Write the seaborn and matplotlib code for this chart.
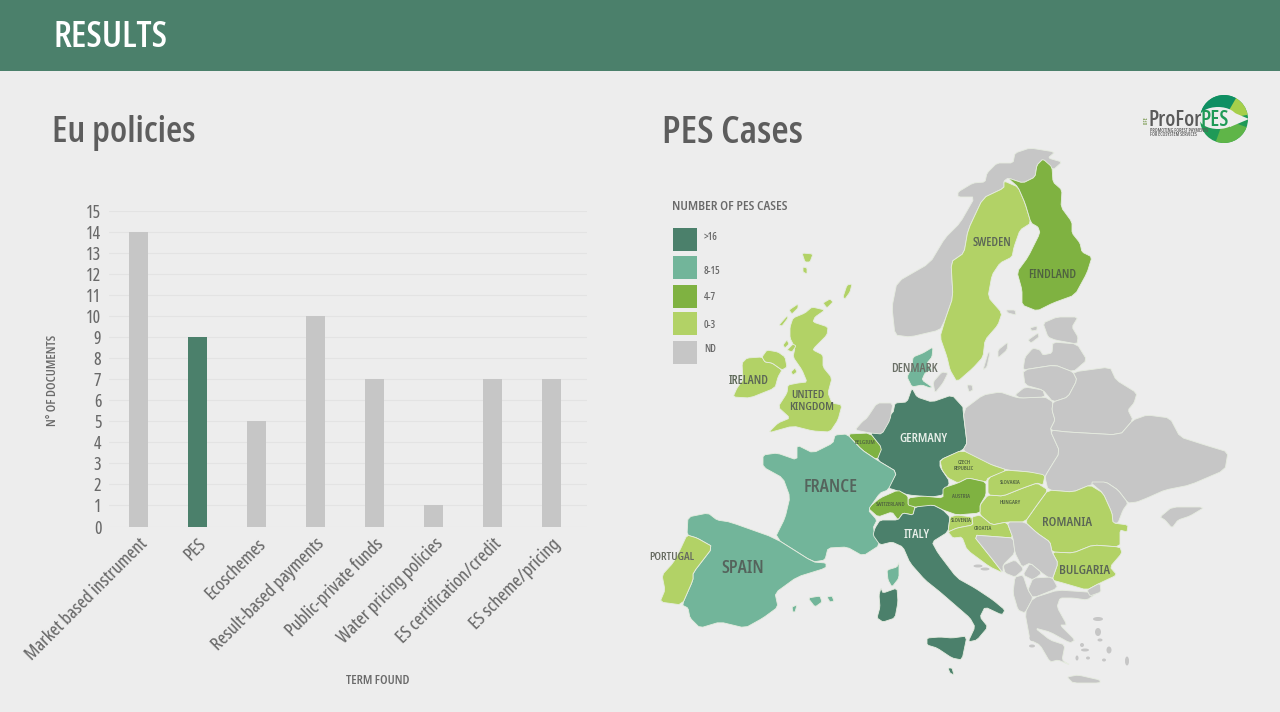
import matplotlib
matplotlib.use("Agg")
import matplotlib.pyplot as plt
import seaborn as sns
from matplotlib.patches import Polygon, Rectangle, Wedge, Ellipse, Circle
from matplotlib import font_manager as fm

# ---------- chart data ----------
terms = ["Market based instrument", "PES", "Ecoschemes", "Result-based payments",
         "Public-private funds", "Water pricing policies", "ES certification/credit",
         "ES scheme/pricing"]
documents = [14, 9, 5, 10, 7, 1, 7, 7]
bar_colors = ["#c6c6c6", "#4b806b", "#c6c6c6", "#c6c6c6", "#c6c6c6", "#c6c6c6", "#c6c6c6", "#c6c6c6"]
y_ticks = list(range(16))

legend_labels = [">16", "8-15", "4-7", "0-3", "ND"]
legend_colors = ["#4b806b", "#72b59a", "#7fb241", "#b2d266", "#c6c6c6"]
DARK, MID, GREEN, LIGHT, ND = legend_colors

# ---------- map outlines (image outline of each country) ----------
shapes = {
 "norway": (ND, [(958,192),(973,183),(985,182),(987,173),(997,163),(1013,163),(1015,153),(1030,148),(1055,152),(1048,158),(1062,162),(1053,170),(1043,159),(1037,165),(1035,177),(1023,183),(1008,178),(1004,181),(1004,188),(983,198),(968,230),(964,253),(951,262),(953,297),(945,320),(940,330),(910,337),(895,335),(892,307),(897,282),(930,263),(945,238),(960,223),(975,197),(958,197)]),
 "sweden": (LIGHT, [(1004,181),(1018,187),(1025,203),(1031,223),(1020,230),(1014,247),(1012,257),(1000,263),(992,275),(988,297),(1002,313),(998,325),(985,340),(983,357),(973,368),(957,382),(950,370),(947,357),(940,337),(945,320),(953,297),(951,262),(964,253),(968,230),(983,198),(1004,188)]),
 "finland": (GREEN, [(1008,178),(1023,183),(1035,177),(1037,165),(1043,159),(1052,167),(1053,182),(1062,190),(1061,207),(1072,222),(1072,233),(1080,243),(1082,252),(1092,257),(1087,273),(1075,295),(1053,303),(1037,311),(1022,305),(1022,290),(1017,272),(1028,257),(1040,233),(1038,227),(1031,223),(1025,203),(1018,187)]),
 "uk": (LIGHT, [(805,313),(812,307),(825,310),(815,317),(813,322),(828,327),(827,335),(815,347),(813,350),(823,355),(823,367),(832,378),(828,393),(832,403),(842,405),(838,420),(830,432),(813,431),(793,426),(768,433),(778,423),(790,418),(778,407),(787,393),(788,385),(798,383),(807,382),(802,370),(793,357),(795,348),(790,338),(790,327),(793,318)]),
 "ireland": (LIGHT, [(747,358),(762,357),(765,362),(772,363),(782,370),(778,377),(775,388),(750,398),(733,397),(737,388),(743,380),(742,363)]),
 "n_ireland": (LIGHT, [(762,357),(767,350),(778,352),(785,357),(787,367),(782,370),(772,363),(765,362)]),
 "uk1": (LIGHT, [(802,253),(813,254),(810,262),(805,262)]),
 "uk2": (LIGHT, [(803,267),(807,268),(807,274),(803,272)]),
 "uk3": (LIGHT, [(843,297),(847,285),(852,284),(850,292),(845,299)]),
 "uk4": (LIGHT, [(823,303),(830,299),(833,302),(827,308)]),
 "uk5": (LIGHT, [(789,310),(798,304),(798,308),(792,314)]),
 "uk6": (LIGHT, [(779,325),(787,316),(788,318),(782,326)]),
 "uk7": (LIGHT, [(783,345),(787,340),(789,344),(785,348)]),
 "uk8": (LIGHT, [(787,350),(793,344),(796,346),(792,352)]),
 "uk9": (LIGHT, [(791,372),(795,368),(797,372),(793,375)]),
 "denmark": (MID, [(913,357),(923,353),(933,347),(932,357),(927,363),(932,370),(925,373),(922,380),(932,387),(930,388),(922,385),(912,387),(907,377),(912,367)]),
 "zealand": (ND, [(933,382),(942,372),(948,373),(943,383),(935,393)]),
 "germany": (DARK, [(912,388),(917,397),(932,402),(952,395),(963,407),(963,410),(967,443),(963,450),(940,460),(940,467),(950,482),(943,495),(932,497),(908,495),(895,490),(888,488),(897,472),(877,460),(881,448),(870,433),(880,420),(893,413),(895,403),(907,402)]),
 "poland": (ND, [(963,410),(983,395),(1000,392),(1015,397),(1020,398),(1045,397),(1053,402),(1052,410),(1055,420),(1050,430),(1060,452),(1047,473),(1045,477),(1030,472),(1007,470),(992,465),(977,460),(963,450),(967,443)]),
 "estonia": (ND, [(1043,323),(1057,317),(1078,317),(1072,327),(1078,337),(1077,344),(1055,340),(1048,337)]),
 "latvia": (ND, [(1025,357),(1033,348),(1040,350),(1043,355),(1052,353),(1053,342),(1077,344),(1087,360),(1073,372),(1055,365),(1035,368),(1023,370)]),
 "lithuania": (ND, [(1023,370),(1055,365),(1073,372),(1077,380),(1068,397),(1053,402),(1043,390),(1025,385)]),
 "kaliningrad": (ND, [(1015,395),(1025,387),(1043,390),(1045,397),(1020,398)]),
 "belarus": (ND, [(1077,380),(1073,372),(1110,367),(1116,380),(1137,393),(1134,403),(1128,410),(1133,420),(1120,435),(1067,432),(1050,430),(1055,420),(1052,410),(1053,402),(1068,397)]),
 "ukraine": (ND, [(1050,430),(1067,432),(1120,435),(1133,420),(1147,415),(1170,418),(1180,437),(1205,445),(1228,452),(1225,470),(1190,485),(1165,490),(1147,498),(1137,502),(1128,503),(1118,490),(1106,482),(1090,485),(1073,492),(1048,490),(1045,477),(1047,473),(1060,452)]),
 "moldova": (ND, [(1090,482),(1106,482),(1118,490),(1128,503),(1123,510),(1118,523),(1113,523),(1112,513),(1103,493)]),
 "crimea": (ND, [(1160,517),(1172,507),(1205,507),(1190,516),(1178,520),(1172,528),(1165,520)]),
 "romania": (LIGHT, [(1048,490),(1073,492),(1090,485),(1103,493),(1112,513),(1113,523),(1128,525),(1127,532),(1120,530),(1120,547),(1093,545),(1073,553),(1052,552),(1050,542),(1037,533),(1025,522),(1037,505)]),
 "bulgaria": (LIGHT, [(1052,552),(1073,553),(1093,545),(1120,547),(1122,553),(1110,567),(1117,575),(1100,583),(1087,590),(1063,583),(1052,580),(1058,563)]),
 "hungary": (LIGHT, [(980,505),(988,495),(1003,496),(1023,488),(1037,483),(1048,490),(1037,505),(1025,522),(1007,522),(992,525),(980,515)]),
 "slovakia": (LIGHT, [(988,478),(1005,470),(1030,472),(1045,475),(1043,485),(1037,483),(1023,488),(1003,496),(988,495)]),
 "czech": (LIGHT, [(940,460),(962,450),(982,460),(992,465),(1007,470),(988,478),(986,482),(968,478),(958,483),(948,478),(942,470)]),
 "austria": (GREEN, [(958,483),(968,478),(986,482),(986,495),(980,505),(980,513),(957,515),(943,510),(933,505),(925,507),(908,507),(908,498),(923,496),(943,498),(943,488)]),
 "switzerland": (GREEN, [(868,508),(880,498),(898,490),(908,496),(908,505),(915,507),(913,515),(903,513),(898,520),(892,512),(878,517)]),
 "belgium": (GREEN, [(847,434),(870,433),(882,448),(877,460),(862,450)]),
 "netherlands": (ND, [(867,418),(877,403),(893,403),(890,420),(882,434),(870,433),(855,430),(862,422)]),
 "france": (MID, [(763,455),(777,453),(797,460),(797,445),(813,453),(833,443),(835,435),(847,434),(862,450),(877,460),(897,472),(888,490),(880,493),(868,510),(877,520),(873,528),(880,545),(863,556),(847,547),(828,548),(825,560),(813,562),(775,538),(785,518),(790,497),(783,478),(763,467)]),
 "spain": (MID, [(688,517),(708,513),(717,520),(730,522),(775,538),(813,562),(826,563),(826,568),(797,577),(775,593),(778,607),(763,618),(745,628),(720,622),(700,628),(690,618),(688,608),(682,605),(693,580),(693,573),(713,547),(697,538),(687,535)]),
 "portugal": (LIGHT, [(687,535),(697,538),(713,547),(693,573),(693,580),(682,605),(660,602),(665,590),(662,575),(673,563),(680,550)]),
 "mallorca": (MID, [(808,598),(820,596),(822,602),(815,607)]),
 "menorca": (MID, [(827,597),(832,596),(834,601),(830,602)]),
 "ibiza": (MID, [(792,607),(797,605),(795,612),(793,612)]),
 "corsica": (MID, [(887,570),(897,567),(899,562),(899,578),(892,587),(888,580)]),
 "sardinia": (DARK, [(879,595),(881,588),(883,593),(897,588),(898,602),(895,618),(883,622),(877,618),(880,607)]),
 "sicily": (DARK, [(927,638),(940,637),(952,638),(967,636),(962,660),(952,658),(937,648),(927,645)]),
 "lampedusa": (DARK, [(948,668),(952,668),(954,675),(950,673)]),
 "italy": (DARK, [(875,528),(880,520),(898,520),(903,513),(913,515),(915,507),(933,505),(943,510),(950,517),(948,532),(932,542),(938,553),(957,578),(975,588),(993,600),(1005,610),(1002,615),(985,607),(980,617),(988,627),(977,640),(968,642),(975,627),(970,618),(955,605),(940,592),(925,580),(910,563),(903,547),(892,542),(880,545),(873,535)]),
 "slovenia": (LIGHT, [(950,517),(957,515),(972,517),(973,525),(957,528),(948,532)]),
 "croatia": (LIGHT, [(980,515),(992,525),(1007,522),(1013,538),(1000,537),(973,535),(993,560),(1003,573),(990,567),(967,550),(962,537),(953,538),(948,532),(957,528),(973,525),(972,517)]),
 "bosnia": (ND, [(973,535),(1000,537),(1013,538),(1015,553),(1003,565),(1003,573),(993,560)]),
 "serbia": (ND, [(1007,522),(1025,522),(1037,533),(1050,542),(1052,552),(1058,563),(1052,580),(1042,573),(1030,563),(1022,567),(1015,553),(1013,538)]),
 "montenegro": (ND, [(1015,560),(1022,567),(1023,570),(1015,577),(1005,573),(1003,565)]),
 "kosovo": (ND, [(1030,563),(1042,573),(1033,580),(1023,575)]),
 "macedonia": (ND, [(1033,578),(1052,577),(1058,588),(1033,598),(1028,590)]),
 "albania": (ND, [(1015,577),(1023,575),(1028,590),(1033,598),(1025,613),(1018,610),(1013,593)]),
 "greece": (ND, [(1033,598),(1058,590),(1087,592),(1097,593),(1087,600),(1073,598),(1060,598),(1057,607),(1067,625),(1060,625),(1075,640),(1070,643),(1050,632),(1035,628),(1050,640),(1065,645),(1062,660),(1070,665),(1058,660),(1050,662),(1040,645),(1030,640),(1025,613)]),
 "thrace": (ND, [(1087,590),(1100,583),(1101,592),(1090,596)]),
 "crete": (ND, [(1067,677),(1078,675),(1100,680),(1100,683),(1073,683)]),
 "gotland": (ND, [(983,370),(988,353),(990,352),(987,367)]),
 "saaremaa": (ND, [(998,350),(1008,342),(1007,350),(998,358)]),
 "hiiumaa": (ND, [(1028,340),(1038,333),(1039,337),(1031,343)]),
 "vormsi": (ND, [(1030,328),(1037,326),(1037,330),(1032,331)]),
 "aland": (ND, [(1006,310),(1015,310),(1016,315),(1008,313)]),
 "bornholm": (ND, [(967,385),(972,385),(973,390),(969,392)]),
}
small_islands = [(1098,619,10,4),(1098,632,6,8),(1085,650,8,3),(1100,640,5,3),(1109,650,5,7),(1088,658,4,3),(1127,661,4,9),
                 (1034,617,4,7),(1032,638,5,6),(1032,646,6,3),(1082,645,4,4),(978,566,9,3),(985,569,9,3),(1104,660,4,3),(1077,658,3,5)]

map_labels = [
 ("SWEDEN", 992, 242, 8.6, "#5b6656"), ("FINDLAND", 1052, 274, 8.6, "#4f6240"),
 ("DENMARK", 914, 368, 8.6, "#6a6f66"), ("IRELAND", 749, 380, 8.6, "#5b6656"),
 ("UNITED", 808, 396, 8.2, "#5b6656"), ("KINGDOM", 812, 407, 8.2, "#5b6656"),
 ("GERMANY", 923, 439, 9, "#e8efe9"), ("FRANCE", 831, 487, 13, "#55635c"),
 ("SPAIN", 743, 568, 13, "#55635c"), ("PORTUGAL", 672, 558, 8, "#666a60"),
 ("ITALY", 917, 534, 9, "#e8efe9"), ("ROMANIA", 1067, 522, 9.4, "#5b6656"),
 ("BULGARIA", 1085, 571, 9.4, "#5b6656"), ("BELGIUM", 865, 442, 4.2, "#4f6240"),
 ("SWITZERLAND", 891, 505, 4, "#4f6240"), ("AUSTRIA", 961, 496, 4, "#4f6240"),
 ("CZECH", 964, 462, 4, "#4f6240"), ("REPUBLIC", 964, 468, 4, "#4f6240"),
 ("SLOVAKIA", 1010, 483, 4, "#4f6240"), ("HUNGARY", 1010, 503, 4, "#4f6240"),
 ("SLOVENIA", 961, 521, 4, "#4f6240"), ("CROATIA", 983, 528, 4, "#4f6240"),
]

# ---------- drawing ----------
BG = "#ededed"
GREY_TXT = "#6a6a6a"
sns.set_theme(style="white", rc={"axes.facecolor": "none", "figure.facecolor": BG})


def narrow_family(name, wdth, wght):
    """Condensed instance of the installed variable Noto Sans, for the DIN-like lettering."""
    try:
        from fontTools.ttLib import TTFont
        from fontTools.varLib import instancer
        font = TTFont(fm.findfont("Noto Sans"))
        inst = instancer.instantiateVariableFont(font, {"wdth": wdth, "wght": wght})
        for rec in inst["name"].names:
            if rec.nameID in (1, 4, 6, 16):
                rec.string = name.replace(" ", "") if rec.nameID == 6 else name
        path = name.replace(" ", "") + ".ttf"
        inst.save(path)
        fm.fontManager.addfont(path)
        return name
    except Exception:
        return "DejaVu Sans"


def rounded(pts, cut=0.14):
    """Round the corners of an outline."""
    out = []
    n = len(pts)
    for i in range(n):
        (x0, y0), (x1, y1) = pts[i], pts[(i + 1) % n]
        out.append((x0 + cut * (x1 - x0), y0 + cut * (y1 - y0)))
        out.append((x1 - cut * (x1 - x0), y1 - cut * (y1 - y0)))
    return out


REG = narrow_family("PES Narrow", 62.5, 430)
BOLD = narrow_family("PES Narrow Bold", 68, 560)
plt.rcParams["font.family"] = [REG, "DejaVu Sans"]

W, H = 1280, 712
fig = plt.figure(figsize=(W / 100, H / 100), dpi=100, facecolor=BG)

page = fig.add_axes([0, 0, 1, 1], zorder=0)
page.set_xlim(0, W)
page.set_ylim(H, 0)
page.axis("off")

page.add_patch(Rectangle((0, 0), W, 70.5, color="#4b806b", lw=0))
page.text(53, 38, "RESULTS", color="white", fontsize=25.6, family=BOLD, va="center", ha="left")
page.text(52, 133, "Eu policies", color="#5d5d5d", fontsize=25.6, family=BOLD, va="center", ha="left")
page.text(662, 133, "PES Cases", color="#5d5d5d", fontsize=27.4, family=BOLD, va="center", ha="left")

# map
for name, (col, pts) in shapes.items():
    page.add_patch(Polygon(rounded(pts), closed=True, facecolor=col, edgecolor="#e6ece0", lw=0.6, zorder=2))
for x, y, w, h in small_islands:
    page.add_patch(Ellipse((x, y), w, h, facecolor=ND, edgecolor="none", zorder=2))
for txt, x, y, size, col in map_labels:
    page.text(x, y, txt, fontsize=size, color=col, ha="center", va="center", zorder=4, family=BOLD)

# map legend
page.text(672, 206, "NUMBER OF PES CASES", fontsize=9.6, color=GREY_TXT, va="center", ha="left", family=BOLD)
legend_y = [228, 256, 285, 312, 341]
legend_text_y = [237, 271, 298, 325, 350]
for lab, col, y, ty in zip(legend_labels, legend_colors, legend_y, legend_text_y):
    page.add_patch(Rectangle((673, y), 24, 23, facecolor=col, edgecolor="none"))
    page.text(704, ty, lab, fontsize=7.2, color=GREY_TXT, va="center", ha="left", family=BOLD)

# logo
cx, cy, r = 1224, 119, 24
page.add_patch(Circle((cx, cy), r, facecolor="#1f9a57", edgecolor="none", zorder=3))
page.add_patch(Wedge((cx, cy), r, 180, 300, facecolor="#0f8f63", edgecolor="none", zorder=3))
page.add_patch(Wedge((cx, cy), r, 300, 350, facecolor="#a6cf4b", edgecolor="none", zorder=3))
page.add_patch(Wedge((cx, cy), r, 20, 110, facecolor="#5fb548", edgecolor="none", zorder=3))
page.add_patch(Ellipse((cx - 6, cy - 1), 38, 22, facecolor=BG, edgecolor="none", zorder=3.2))
page.add_patch(Polygon([(cx + 6, cy - 8), (cx + 25, cy), (cx + 6, cy + 8)], facecolor=BG, edgecolor="none", zorder=3.2))
page.text(1149, 120, "ProFor", fontsize=15, family=BOLD, color="#5a5a5a", va="center", ha="left", zorder=5)
page.text(1201, 120, "PES", fontsize=15, family=BOLD, color="#1f9a57", va="center", ha="left", zorder=5)
page.text(1146, 120, "LIFE", fontsize=3.6, family=BOLD, color="#7a9a50", rotation=90, va="center", ha="center", zorder=5)
page.text(1150, 130, "PROMOTING FOREST PAYMENTS", fontsize=3.4, family=BOLD, color="#5a5a5a", va="center", ha="left", zorder=5)
page.text(1150, 134, "FOR ECOSYSTEM SERVICES", fontsize=3.4, family=BOLD, color="#5a5a5a", va="center", ha="left", zorder=5)

# bar chart
left, right, top, bottom = 109, 587, 211, 526.5
ax = fig.add_axes([left / W, 1 - bottom / H, (right - left) / W, (bottom - top) / H], zorder=2)
ax.patch.set_alpha(0)
sns.barplot(x=terms, y=documents, hue=terms, palette=bar_colors, width=0.32, saturation=1,
            legend=False, dodge=False, linewidth=0, ax=ax, zorder=3)
ax.set_xlim(-0.5, 7.6)
ax.set_ylim(0, 15)
ax.set_yticks(y_ticks)
ax.set_yticklabels([str(v) for v in y_ticks], fontsize=12.5, color=GREY_TXT)
ax.tick_params(axis="y", length=0, pad=5.5)
ax.tick_params(axis="x", length=0, pad=6)
ax.set_xticks(range(len(terms)))
ax.set_xticklabels(terms, rotation=45, ha="right", rotation_mode="anchor", fontsize=13.3, color=GREY_TXT)
ax.yaxis.grid(True, color="#e3e3e3", lw=0.8, zorder=0)
ax.set_axisbelow(True)
sns.despine(ax=ax, left=True, bottom=True)
ax.set_ylabel("")
ax.set_xlabel("")

page.text(53, 380, "N° OF DOCUMENTS", fontsize=9, color=GREY_TXT, rotation=90, va="center", ha="center", family=BOLD)
page.text(378, 680, "TERM FOUND", fontsize=9, color=GREY_TXT, va="center", ha="center", family=BOLD)

fig.savefig("out.png", dpi=100, facecolor=BG)
